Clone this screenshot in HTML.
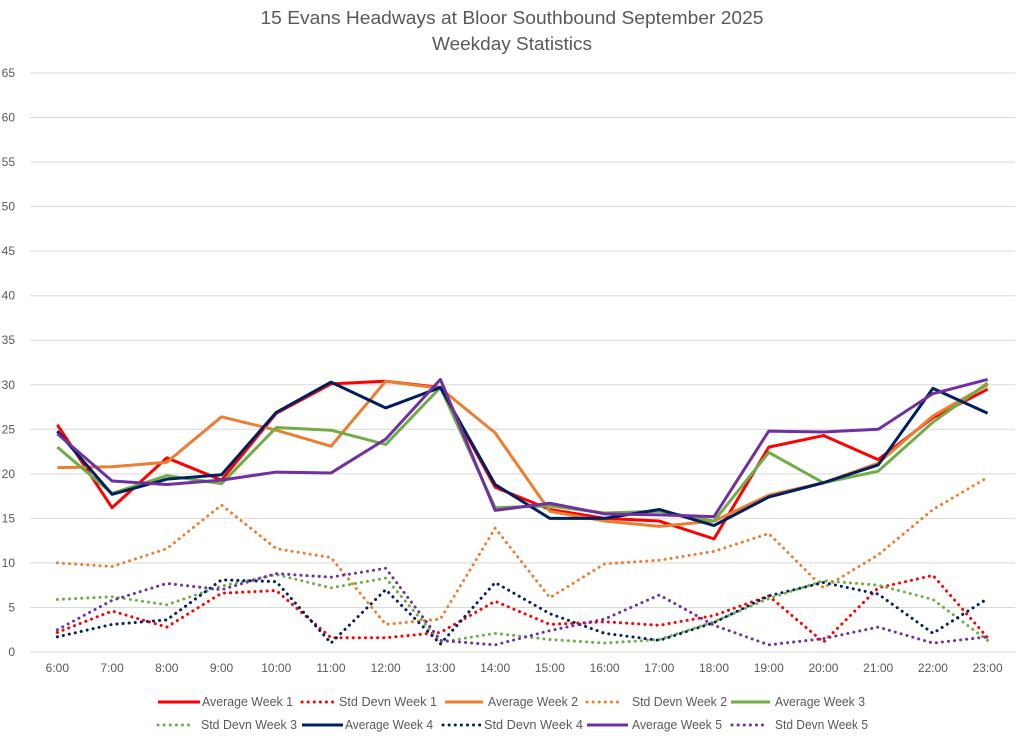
<!DOCTYPE html>
<html><head><meta charset="utf-8"><style>
body{margin:0;background:#fff;}
svg{display:block;font-family:"Liberation Sans",sans-serif;}
</style></head><body>
<svg id="chart" width="1024" height="736">
<text x="512" y="24" text-anchor="middle" font-size="18" fill="#595959" textLength="503" lengthAdjust="spacingAndGlyphs">15 Evans Headways at Bloor Southbound September 2025</text>
<text x="512" y="50" text-anchor="middle" font-size="18" fill="#595959" textLength="160" lengthAdjust="spacingAndGlyphs">Weekday Statistics</text>
<g id="grid"></g><g id="series"></g><g id="legend"></g>
</svg>
<script>
const categories=["6:00","7:00","8:00","9:00","10:00","11:00","12:00","13:00","14:00","15:00","16:00","17:00","18:00","19:00","20:00","21:00","22:00","23:00"];
const yTicks=[0,5,10,15,20,25,30,35,40,45,50,55,60,65];
const avgWeek1=[25.5,16.2,21.8,19.3,26.8,30.1,30.4,29.7,18.5,16.0,15.0,14.7,12.7,23.0,24.3,21.6,26.3,29.5];
const stdWeek1=[2.2,4.6,2.8,6.6,6.9,1.6,1.6,2.2,5.7,3.1,3.4,3.0,4.1,6.3,1.1,7.2,8.6,1.6];
const avgWeek2=[20.7,20.8,21.3,26.4,24.9,23.1,30.4,29.6,24.6,15.8,14.7,14.1,14.7,17.6,19.0,21.2,26.5,30.0];
const stdWeek2=[10.0,9.6,11.6,16.5,11.6,10.6,3.1,3.7,13.9,6.1,9.9,10.3,11.3,13.3,7.2,10.9,16.0,19.6];
const avgWeek3=[23.0,17.8,19.8,18.9,25.2,24.9,23.3,29.7,16.2,16.4,15.6,15.8,14.7,22.4,19.0,20.3,25.8,30.2];
const stdWeek3=[5.9,6.2,5.3,7.4,8.7,7.2,8.3,1.1,2.1,1.4,1.0,1.4,3.4,6.0,8.0,7.5,5.9,1.3];
const avgWeek4=[24.8,17.7,19.4,19.9,26.9,30.3,27.4,29.7,18.8,15.0,15.0,16.0,14.2,17.4,19.0,21.0,29.6,26.8];
const stdWeek4=[1.7,3.1,3.6,8.1,7.9,1.0,7.0,0.9,7.8,4.3,2.1,1.3,3.3,6.3,7.8,6.5,2.1,6.0];
const avgWeek5=[24.5,19.2,18.8,19.3,20.2,20.1,23.9,30.6,15.9,16.7,15.5,15.4,15.2,24.8,24.7,25.0,29.0,30.6];
const stdWeek5=[2.5,5.8,7.7,7.0,8.8,8.4,9.4,1.3,0.8,2.4,3.7,6.4,3.0,0.8,1.5,2.8,1.0,1.7];

const NS="http://www.w3.org/2000/svg";
const L=30,R=1015,Y0=652,Y65=73;
const band=(R-L)/categories.length;
const xS=i=>L+band*(i+0.5);
const yS=v=>Y0-(v/65)*(Y0-Y65);
function mk(t,a,p){const e=document.createElementNS(NS,t);for(const k in a)e.setAttribute(k,a[k]);p.appendChild(e);return e;}
const grid=document.getElementById('grid');
yTicks.forEach(t=>{
  const ln=mk('line',{x1:L,x2:R,y1:yS(t),y2:yS(t),stroke:'#d9d9d9','stroke-width':1},grid);
  
  
  const tx=mk('text',{x:15,y:yS(t)+4,'text-anchor':'end','font-size':12,fill:'#595959'},grid);
  tx.textContent=t;
  
  
});
categories.forEach((c,i)=>{
  const tx=mk('text',{x:xS(i),y:672,'text-anchor':'middle','font-size':12,fill:'#595959'},grid);
  tx.textContent=c;
  
  
});
const series=[
 {n:"Average Week 1",d:avgWeek1,c:"#ff0000",dot:false},
 {n:"Std Devn Week 1",d:stdWeek1,c:"#ff0000",dot:true},
 {n:"Average Week 2",d:avgWeek2,c:"#ed7d31",dot:false},
 {n:"Std Devn Week 2",d:stdWeek2,c:"#ed7d31",dot:true},
 {n:"Average Week 3",d:avgWeek3,c:"#70ad47",dot:false},
 {n:"Std Devn Week 3",d:stdWeek3,c:"#70ad47",dot:true},
 {n:"Average Week 4",d:avgWeek4,c:"#002060",dot:false},
 {n:"Std Devn Week 4",d:stdWeek4,c:"#002060",dot:true},
 {n:"Average Week 5",d:avgWeek5,c:"#7030a0",dot:false},
 {n:"Std Devn Week 5",d:stdWeek5,c:"#7030a0",dot:true}
];
const sg=document.getElementById('series');
const order=[1,3,5,7,9,0,2,4,6,8];
order.forEach(k=>{
  const s=series[k];
  const p=mk('polyline',{points:s.d.map((v,i)=>xS(i)+','+yS(v)).join(' '),fill:'none',stroke:s.c,'stroke-width':3,'stroke-linejoin':'round','stroke-linecap':s.dot?'round':'butt'},sg);
  if(s.dot)p.setAttribute('stroke-dasharray','0.1 6');
  
  
});
const lg=document.getElementById('legend');
// [lineStart, lineEnd, textStart, textWidth, y]
const pos=[[158,200,202,91,706],[302,333,339,98,706],[445,483,488,90,706],[587,618,632,95,706],[731,770,775,90,706],
           [158,193,201,96,729],[302,343,345,88,729],[443,480,484,99,729],[587,628,632,90,729],[732,767,775,93,729]];
series.forEach((s,k)=>{
  const [x1,x2,tx,tw,y]=pos[k];
  const g=mk('g',{},lg);
  
  
  const l=mk('line',{x1:x1,x2:x2,y1:y-4,y2:y-4,stroke:s.c,'stroke-width':3,'stroke-linecap':s.dot?'round':'butt'},g);
  if(s.dot)l.setAttribute('stroke-dasharray','0.1 6');
  const t=mk('text',{x:tx,y:y,'font-size':13,fill:'#595959',textLength:tw,lengthAdjust:'spacingAndGlyphs'},g);
  t.textContent=s.n;
});
</script>
</body></html>
